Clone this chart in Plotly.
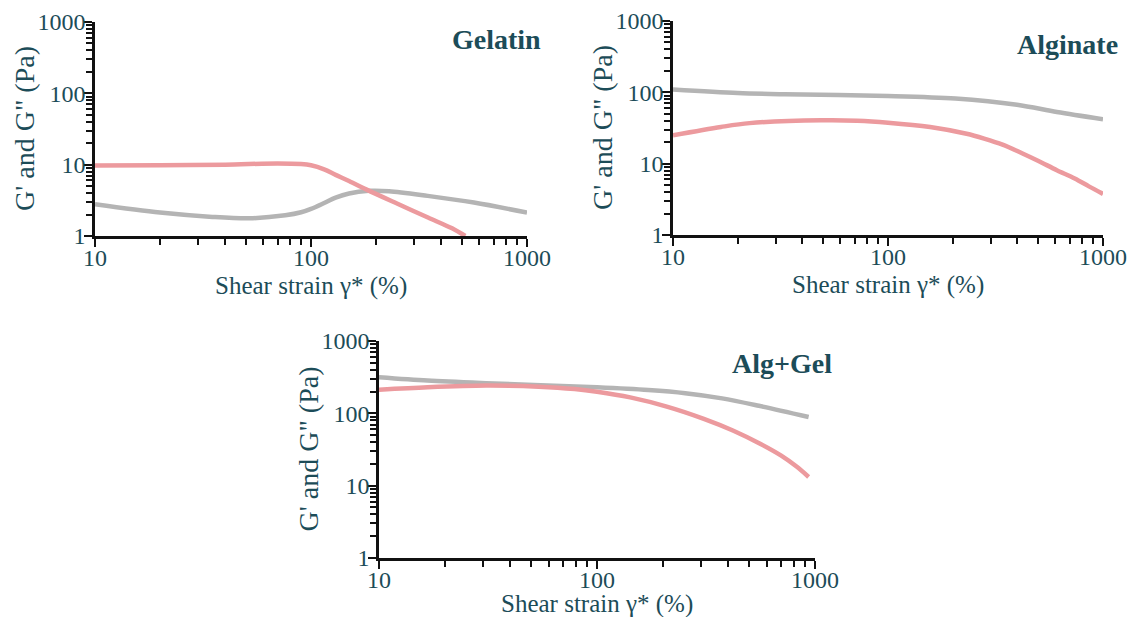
import plotly.graph_objects as go

# Amplitude sweeps: storage / loss modulus vs shear strain
gel_strain_pink = [10, 20, 40, 70, 90, 100, 115, 130, 150, 180, 250, 350, 450, 518]
gel_mod_pink = [9.7, 9.8, 10.0, 10.4, 10.2, 9.8, 8.6, 7.2, 5.9, 4.5, 2.85, 1.8, 1.28, 1.0]
gel_strain_grey = [10, 20, 35, 52, 76, 90, 100, 115, 130, 150, 185, 230, 347, 568, 1000]
gel_mod_grey = [2.79, 2.13, 1.85, 1.77, 1.95, 2.15, 2.4, 2.9, 3.45, 3.95, 4.3, 4.25, 3.65, 2.94, 2.13]

alg_strain_grey = [10, 20, 33, 100, 206, 398, 610, 1000]
alg_mod_grey = [110, 98, 94, 89, 82, 67, 53, 42]
alg_strain_pink = [10, 16.7, 22.7, 49, 72, 100, 157, 232, 280, 341, 420, 501, 610, 739, 860, 1000]
alg_mod_pink = [25, 32.7, 37, 40.5, 40, 37.6, 32.7, 26.3, 22.5, 18.5, 14, 10.9, 8.1, 6.2, 4.8, 3.77]

mix_strain_grey = [10, 16.7, 31, 100, 172, 254, 375, 553, 935]
mix_mod_grey = [316, 284, 261, 229, 210, 190, 161, 127, 89]
mix_strain_pink = [10, 16.7, 31, 54, 79, 100, 142, 209, 309, 420, 560, 700, 820, 935]
mix_mod_pink = [212, 229, 242, 234, 217, 199, 166, 124, 84, 58, 38, 26, 18.5, 13.2]

panel_names = ["Gelatin", "Alginate", "Alg+Gel"]
tick_vals = [1, 10, 100, 1000]
tick_text = ["1", "10", "100", "1000"]
x_title = "Shear strain γ* (%)"
y_title = "G' and G\" (Pa)"

W, H = 1135, 617
PINK = "#ec9a9e"
GREY = "#b4b4b4"
TEXT = "#1c4c58"
FONT = "Liberation Serif"

# plot areas in pixels: (left, right, top, bottom)
boxes = [(95, 527, 22, 236), (673, 1103, 21, 235), (379, 815, 341, 558)]
x_title_gap = [50, 50, 46]

fig = go.Figure()

series = [
    (gel_strain_grey, gel_mod_grey, gel_strain_pink, gel_mod_pink),
    (alg_strain_grey, alg_mod_grey, alg_strain_pink, alg_mod_pink),
    (mix_strain_grey, mix_mod_grey, mix_strain_pink, mix_mod_pink),
]

for i, (gx, gy, px, py) in enumerate(series):
    sfx = "" if i == 0 else str(i + 1)
    for xs, ys, col in ((gx, gy, GREY), (px, py, PINK)):
        fig.add_trace(go.Scatter(
            x=xs, y=ys, mode="lines", xaxis="x" + sfx, yaxis="y" + sfx,
            line=dict(color=col, width=4.5, shape="spline", smoothing=0.9),
            showlegend=False, hoverinfo="skip",
        ))

axis_common = dict(
    type="log", showgrid=False, zeroline=False, showline=True,
    linecolor="#111111", linewidth=2.5, mirror=False, automargin=False,
    ticks="outside", ticklen=8, tickwidth=2, tickcolor="#111111",
    tickvals=tick_vals, ticktext=tick_text,
    tickfont=dict(family=FONT, size=24, color=TEXT),
    minor=dict(ticks="outside", ticklen=6, tickwidth=1.5, tickcolor="#111111",
               dtick="D1", showgrid=False),
)

layout = dict(
    width=W, height=H, margin=dict(l=0, r=0, t=0, b=0, pad=0, autoexpand=False),
    paper_bgcolor="white", plot_bgcolor="white", showlegend=False,
)
annotations = []
for i, (l, r, t, b) in enumerate(boxes):
    sfx = "" if i == 0 else str(i + 1)
    layout["xaxis" + sfx] = dict(
        axis_common, domain=[l / W, r / W], range=[1, 3],
        anchor="y" + sfx, ticklabelstandoff=-10,
    )
    layout["yaxis" + sfx] = dict(
        axis_common, domain=[1 - b / H, 1 - t / H], range=[0, 3],
        anchor="x" + sfx, ticklabelstandoff=-6,
    )
    cx = (l + r) / 2
    cy = (t + b) / 2
    annotations.append(dict(
        text=x_title, x=cx / W, y=1 - (b + x_title_gap[i]) / H, xref="paper", yref="paper",
        showarrow=False, xanchor="center", yanchor="middle",
        font=dict(family=FONT, size=25, color=TEXT),
    ))
    annotations.append(dict(
        text=y_title, x=(l - 71) / W, y=1 - cy / H, xref="paper", yref="paper",
        showarrow=False, xanchor="center", yanchor="middle", textangle=-90,
        font=dict(family=FONT, size=28, color=TEXT),
    ))

title_pos = [(497, 40), (1067, 44), (782, 363)]
for name, (tx, ty) in zip(panel_names, title_pos):
    annotations.append(dict(
        text="<b>" + name + "</b>", x=tx / W, y=1 - ty / H, xref="paper", yref="paper",
        showarrow=False, xanchor="center", yanchor="middle",
        font=dict(family=FONT, size=28, color=TEXT),
    ))

layout["annotations"] = annotations
fig.update_layout(**layout)
fig.write_html("out.html")
